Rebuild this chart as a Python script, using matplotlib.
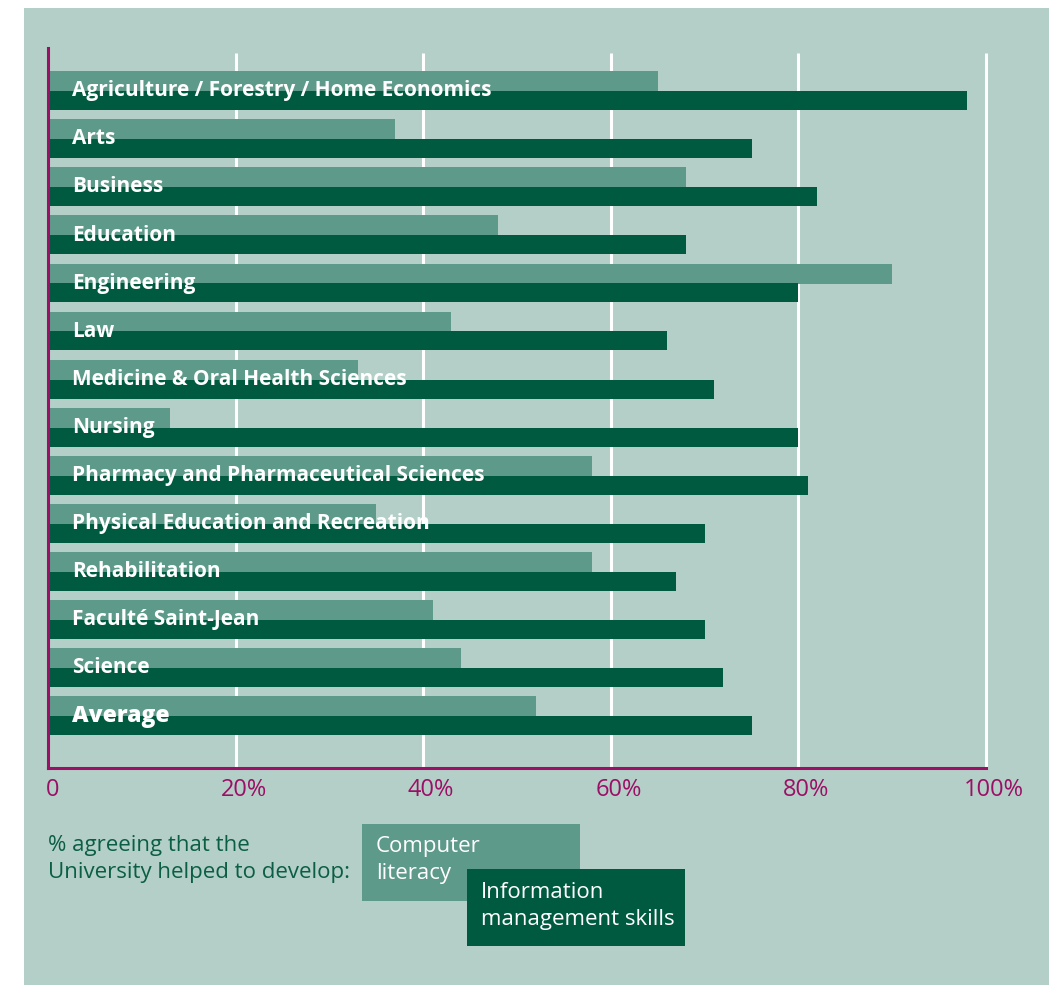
import matplotlib
matplotlib.use("Agg")
import matplotlib.pyplot as plt
from matplotlib.patches import Rectangle
import numpy as np

categories = [
    "Agriculture / Forestry / Home Economics",
    "Arts",
    "Business",
    "Education",
    "Engineering",
    "Law",
    "Medicine & Oral Health Sciences",
    "Nursing",
    "Pharmacy and Pharmaceutical Sciences",
    "Physical Education and Recreation",
    "Rehabilitation",
    "Faculté Saint-Jean",
    "Science",
    "Average",
]
computer_literacy = [65, 37, 68, 48, 90, 43, 33, 13, 58, 35, 58, 41, 44, 52]
info_mgmt = [98, 75, 82, 68, 80, 66, 71, 80, 81, 70, 67, 70, 72, 75]
tick_values = [0, 20, 40, 60, 80, 100]
tick_labels = ["0", "20%", "40%", "60%", "80%", "100%"]

BG = "#b3cfc7"
LIGHT = "#5e9a8a"
DARK = "#005a40"
MAGENTA = "#9c0f66"
TEXTGREEN = "#0b5e45"

plt.rcParams['font.family'] = ['Open Sans', 'DejaVu Sans']

W, H = 1062, 985
fig = plt.figure(figsize=(W / 100, H / 100), dpi=100, facecolor="white")

# background panel
bg = fig.add_axes([0, 0, 1, 1], zorder=-10)
bg.set_xlim(0, W)
bg.set_ylim(H, 0)
bg.axis("off")
bg.add_patch(Rectangle((24, 8), 1049 - 24, 985 - 8, facecolor=BG, edgecolor="none"))

x0, x1 = 48, 986
y_top, y_bot = 48, 768
ax = fig.add_axes([x0 / W, 1 - y_bot / H, (x1 - x0) / W, (y_bot - y_top) / H], zorder=1)
ax.set_facecolor("none")

n = len(categories)
pos = np.arange(n)
step = 48.1
ax.set_xlim(0, 100)
ax.set_ylim((y_bot - 91) / step, -(91 - y_top) / step)

for v in tick_values[1:]:
    ax.plot([v, v], [ax.get_ylim()[0], -(91 - 53) / step], color="white",
            lw=2.2, zorder=1, solid_capstyle="butt", clip_on=False)

ax.barh(pos - 0.205, computer_literacy, height=0.415, color=LIGHT, zorder=2)
ax.barh(pos + 0.197, info_mgmt, height=0.395, color=DARK, zorder=3)

for i, c in enumerate(categories):
    last = (i == n - 1)
    ax.text(2.55, i + 0.11, c, color="white", fontsize=16.5 if last else 15,
            fontweight=800 if last else "bold",
            va="baseline", ha="left", zorder=5)

for s in ["top", "right"]:
    ax.spines[s].set_visible(False)
for s in ["left", "bottom"]:
    ax.spines[s].set_color(MAGENTA)
    ax.spines[s].set_linewidth(2.2)
    ax.spines[s].set_zorder(6)
ax.set_yticks([])
ax.set_xticks([])

for v, lab in zip(tick_values, tick_labels):
    ax.text(v + 0.45 if v == 0 else v + 0.85, (y_bot - 91 + 22) / step, lab,
            color=MAGENTA, fontsize=17, ha="center", va="center", clip_on=False)

fig.text(48 / W, 1 - 859 / H, "% agreeing that the\nUniversity helped to develop:",
         color=TEXTGREEN, fontsize=16, ha="left", va="center", linespacing=1.35)

bg.add_patch(Rectangle((362, 824), 580 - 362, 901 - 824, facecolor=LIGHT,
                       edgecolor="none", zorder=2))
bg.add_patch(Rectangle((467, 869), 685 - 467, 946 - 869, facecolor=DARK,
                       edgecolor="none", zorder=3))
bg.text(376, 860, "Computer\nliteracy", color="white", fontsize=16,
        ha="left", va="center", linespacing=1.35, zorder=4)
bg.text(481, 906, "Information\nmanagement skills", color="white",
        fontsize=16, ha="left", va="center", linespacing=1.35, zorder=5)

fig.savefig("out.png", dpi=100, facecolor="white")
